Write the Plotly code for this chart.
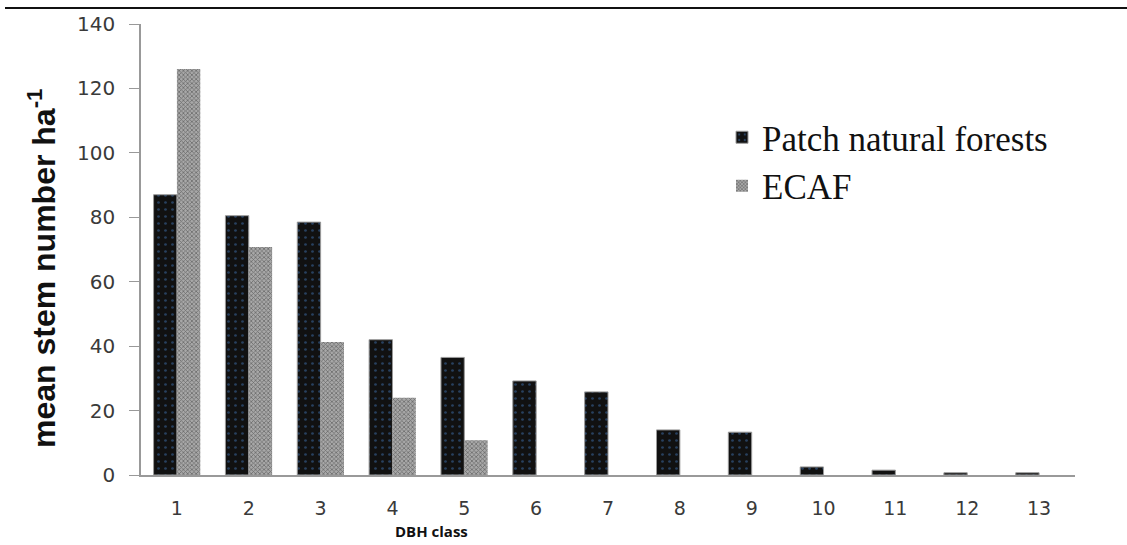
import plotly.graph_objects as go

categories = [str(i) for i in range(1, 14)]
patch_natural = [87, 80.5, 78.5, 42, 36.5, 29.2, 25.8, 14, 13.3, 2.5, 1.5, 0.7, 0.7]
ecaf = [126, 70.8, 41.3, 24, 10.8, 0, 0, 0, 0, 0, 0, 0, 0]
y_ticks = [0, 20, 40, 60, 80, 100, 120, 140]

L, R, T, B = 141, 52, 24, 70
W, H = 1127, 545
pw, ph = W - L - R, H - T - B

def px_x(x):
    return (x - L) / pw

def px_y(y):
    return (H - B - y) / ph

fig = go.Figure()
fig.add_trace(go.Bar(
    x=categories, y=patch_natural, name="Patch natural forests",
    marker=dict(color="#111111", line=dict(color="#9a9a9a", width=1),
                pattern=dict(shape=".", fgcolor="#3d6fae", bgcolor="#111111", size=7, solidity=0.12)),
))
fig.add_trace(go.Bar(
    x=categories, y=ecaf, name="ECAF",
    marker=dict(color="#8a8a8a", line=dict(color="#aaaaaa", width=0),
                pattern=dict(shape="x", fgcolor="#2e2e2e", bgcolor="#a8a8a8", size=3, solidity=0.45)),
))

fig.update_layout(
    width=W, height=H,
    margin=dict(l=L, r=R, t=T, b=B),
    paper_bgcolor="white", plot_bgcolor="white",
    barmode="group", bargap=0.35, bargroupgap=0,
    font=dict(family="DejaVu Sans", color="#333333"),
    legend=dict(x=px_x(722), y=px_y(108), xanchor="left", yanchor="top",
                font=dict(family="Liberation Serif", size=35, color="#111111"),
                bgcolor="rgba(0,0,0,0)", tracegroupgap=0, itemwidth=30),
    showlegend=True,
)
fig.update_xaxes(
    showline=True, linecolor="#999999", linewidth=1.5,
    ticks="", tickfont=dict(family="DejaVu Sans", size=19, color="#3a3a3a"),
    ticklabelstandoff=15, showgrid=False,
)
fig.update_yaxes(
    range=[0, 140], tickvals=y_ticks, showline=True, linecolor="#999999", linewidth=1.5,
    ticks="outside", ticklen=10, tickcolor="#999999",
    tickfont=dict(family="DejaVu Sans", size=20, color="#3a3a3a"),
    ticklabelstandoff=10, showgrid=False, zeroline=False,
)

fig.add_annotation(
    text="<b>mean stem number ha<sup>-1</sup></b>", xref="paper", yref="paper",
    x=px_x(42), y=px_y(268), xanchor="center", yanchor="middle",
    textangle=-90, showarrow=False,
    font=dict(family="Liberation Sans Narrow, Liberation Sans", size=32, color="#111111"),
)
fig.add_annotation(
    text="<b>DBH class</b>", xref="paper", yref="paper",
    x=px_x(431), y=px_y(531), xanchor="center", yanchor="middle", showarrow=False,
    font=dict(family="Open Sans", size=15, color="#111111"),
)
fig.add_shape(type="line", xref="paper", yref="paper",
              x0=px_x(5), x1=px_x(1127), y0=px_y(8), y1=px_y(8),
              line=dict(color="#111111", width=2))

fig.write_html("out.html")
